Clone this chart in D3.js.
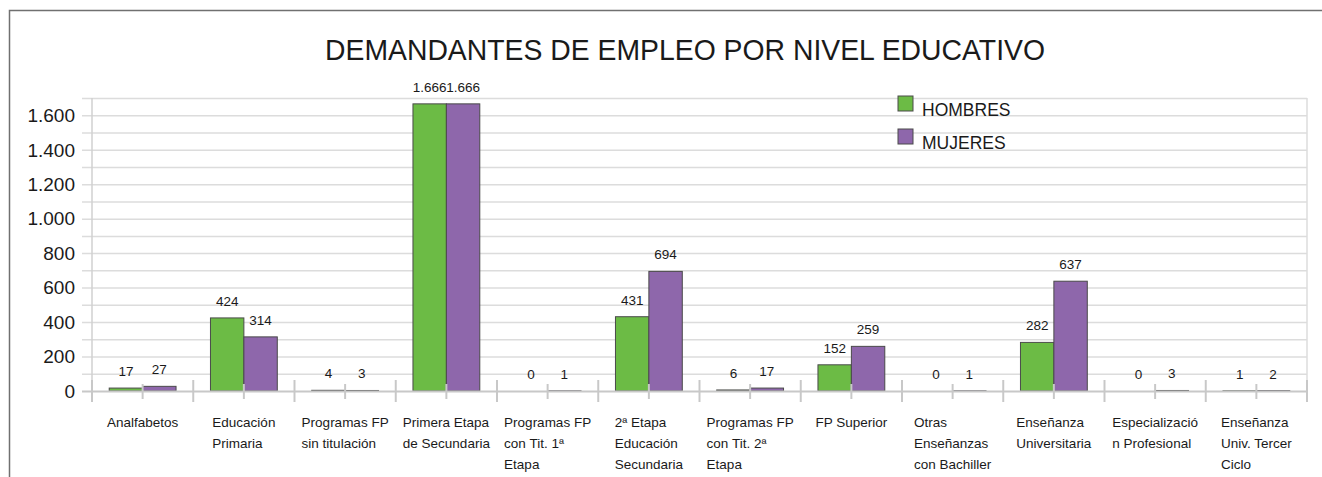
<!DOCTYPE html>
<html>
<head>
<meta charset="utf-8">
<script src="https://cdn.jsdelivr.net/npm/d3@7"></script>
<style>
  body { margin: 0; background: #fff; }
  svg text { font-family: "Liberation Sans", Arial, sans-serif; fill: #1a1a1a; }
</style>
</head>
<body>
<div id="chart"></div>
<script>
// data
const categories = [
  "Analfabetos", "Educación\nPrimaria", "Programas FP\nsin titulación",
  "Primera Etapa\nde Secundaria", "Programas FP\ncon Tit. 1ª\nEtapa",
  "2ª Etapa\nEducación\nSecundaria", "Programas FP\ncon Tit. 2ª\nEtapa",
  "FP Superior", "Otras\nEnseñanzas\ncon Bachiller", "Enseñanza\nUniversitaria",
  "Especializació\nn Profesional", "Enseñanza\nUniv. Tercer\nCiclo"
];
const series = ["HOMBRES", "MUJERES"];
const hombres = [17, 424, 4, 1666, 0, 431, 6, 152, 0, 282, 0, 1];
const mujeres = [27, 314, 3, 1666, 1, 694, 17, 259, 1, 637, 3, 2];
const yTicks = [0, 200, 400, 600, 800, 1000, 1200, 1400, 1600];
const colors = ["#6cbb45", "#8e67ab"];

const W = 1322, H = 477;
const plot = {left: 92, right: 1307, top: 98, bottom: 391};

const fmt = v => d3.format(",")(v).replace(/,/g, ".");

const svg = d3.select("#chart").append("svg")
  .attr("width", W).attr("height", H);

// frame
svg.append("path")
  .attr("d", `M9.5,${H} V10.5 H${W}`)
  .attr("fill", "none").attr("stroke", "#707070").attr("stroke-width", 1.5);

// title
svg.append("text")
  .attr("x", 685).attr("y", 60)
  .attr("text-anchor", "middle")
  .attr("font-size", 29)
  .attr("textLength", 720).attr("lengthAdjust", "spacingAndGlyphs")
  .text("DEMANDANTES DE EMPLEO POR NIVEL EDUCATIVO");

const y = d3.scaleLinear().domain([0, 1700]).range([plot.bottom, plot.top]);
const x0 = d3.scaleBand().domain(categories).range([plot.left, plot.right]);
const bw = x0.bandwidth();
const x1 = d3.scaleBand().domain(series).range([bw * 0.17, bw * 0.83]);

// gridlines every 100
svg.append("g").selectAll("line")
  .data(d3.range(100, 1701, 100))
  .enter().append("line")
  .attr("x1", plot.left - 10).attr("x2", plot.right)
  .attr("y1", d => y(d) + 0.5).attr("y2", d => y(d) + 0.5)
  .attr("stroke", "#dcdcdc").attr("stroke-width", 1.5);

// vertical frame lines of the plot
svg.append("line")
  .attr("x1", plot.left).attr("x2", plot.left)
  .attr("y1", plot.top).attr("y2", plot.bottom + 10)
  .attr("stroke", "#d0d0d0").attr("stroke-width", 1.5);
svg.append("line")
  .attr("x1", plot.right).attr("x2", plot.right)
  .attr("y1", plot.top).attr("y2", plot.bottom)
  .attr("stroke", "#dcdcdc").attr("stroke-width", 1.5);

// y tick labels
svg.append("g").selectAll("text")
  .data(yTicks)
  .enter().append("text")
  .attr("x", 75).attr("y", d => y(d))
  .attr("dy", "0.36em")
  .attr("text-anchor", "end")
  .attr("font-size", 19)
  .text(fmt);

// bars
const rows = categories.map((c, i) => ({cat: c, vals: [hombres[i], mujeres[i]]}));
const groups = svg.append("g").selectAll("g")
  .data(rows)
  .enter().append("g")
  .attr("transform", d => `translate(${x0(d.cat)},0)`);

groups.selectAll("rect")
  .data(d => d.vals.map((v, j) => ({s: series[j], v, j})).filter(e => e.v > 0))
  .enter().append("rect")
  .attr("x", d => x1(d.s))
  .attr("y", d => y(d.v))
  .attr("width", x1.bandwidth())
  .attr("height", d => y(0) - y(d.v))
  .attr("fill", d => colors[d.j])
  .attr("stroke", "#4a4a4a").attr("stroke-width", 1);

// x axis line and ticks
svg.append("line")
  .attr("x1", plot.left - 10).attr("x2", plot.right)
  .attr("y1", plot.bottom + 0.5).attr("y2", plot.bottom + 0.5)
  .attr("stroke", "#c8c8c8").attr("stroke-width", 2);

const bounds = categories.map(c => x0(c)).concat([plot.right]);
svg.append("g").selectAll("line")
  .data(bounds)
  .enter().append("line")
  .attr("x1", d => d).attr("x2", d => d)
  .attr("y1", plot.bottom - 11).attr("y2", plot.bottom + 11)
  .attr("stroke", "#c8c8c8").attr("stroke-width", 2);
svg.append("g").selectAll("line")
  .data(categories)
  .enter().append("line")
  .attr("x1", d => x0(d) + bw / 2).attr("x2", d => x0(d) + bw / 2)
  .attr("y1", plot.bottom - 7).attr("y2", plot.bottom + 8)
  .attr("stroke", "#c8c8c8").attr("stroke-width", 2);

// value labels
groups.selectAll("text")
  .data(d => d.vals.map((v, j) => ({s: series[j], v})))
  .enter().append("text")
  .attr("x", d => x1(d.s) + x1.bandwidth() / 2)
  .attr("y", d => y(d.v) - 12)
  .attr("text-anchor", "middle")
  .attr("font-size", 13.5)
  .text(d => fmt(d.v));

// category labels, left aligned block centred under the category
const labels = svg.append("g").selectAll("text")
  .data(categories)
  .enter().append("text")
  .attr("font-size", 13.5);
labels.each(function(c) {
  const t = d3.select(this);
  c.split("\n").forEach((line, k) => {
    t.append("tspan").attr("dy", k === 0 ? 0 : 21).text(line);
  });
  let maxW = 0;
  t.selectAll("tspan").each(function() {
    maxW = Math.max(maxW, this.getComputedTextLength());
  });
  const x = x0(c) + bw / 2 - maxW / 2;
  t.attr("y", 426.5);
  t.selectAll("tspan").attr("x", x);
});

// legend
const legend = svg.append("g").selectAll("g")
  .data(series)
  .enter().append("g")
  .attr("transform", (d, i) => `translate(898,${96 + i * 33})`);
legend.append("rect")
  .attr("width", 15).attr("height", 15)
  .attr("fill", (d, i) => colors[i])
  .attr("stroke", "#4a4a4a").attr("stroke-width", 1);
legend.append("text")
  .attr("x", 24).attr("y", 19.5)
  .attr("font-size", 17.5)
  .text(d => d);
</script>
</body>
</html>
